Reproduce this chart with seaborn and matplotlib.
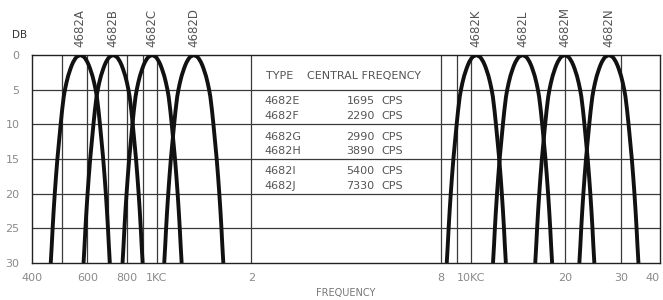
#!/usr/bin/env python
import sys

from matplotlib import pyplot as plt
import pandas as pd
import seaborn as sns

# filter types and their peak (central) frequencies in cps
CURVE_TYPES = ['4682A', '4682B', '4682C', '4682D',
               '4682K', '4682L', '4682M', '4682N']
CURVE_CENTERS = [570, 725, 965, 1310, 10400, 14600, 19900, 27500]

# shared response shape: attenuation (db) vs ratio f/f0 on each side of the peak
PROFILE_DB = [0, 0.25, 0.5, 1, 1.5, 2, 3, 4, 5, 6, 7, 8, 10, 12.5, 15,
              17.5, 20, 22.5, 25, 27.5, 30]
PROFILE_RATIO = [1.0, 1.026, 1.037, 1.053, 1.065, 1.075, 1.093, 1.107,
                 1.119, 1.129, 1.136, 1.143, 1.155, 1.169, 1.183, 1.195,
                 1.206, 1.216, 1.225, 1.233, 1.242]

# the table in the middle of the chart
TABLE_TYPES = ['4682E', '4682F', '4682G', '4682H', '4682I', '4682J']
TABLE_FREQS = ['1695', '2290', '2990', '3890', '5400', '7330']

XTICKS = [400, 600, 800, 1000, 2000, 8000, 10000, 20000, 30000, 40000]
XTICKLABELS = ['400', '600', '800', '1KC', '2', '8', '10KC', '20', '30', '40']
XGRID = [500, 600, 700, 800, 900, 1000, 2000, 8000, 9000, 10000, 20000, 30000]
YTICKS = [0, 5, 10, 15, 20, 25, 30]


def build_curves():
  rows = []
  for name, f0 in zip(CURVE_TYPES, CURVE_CENTERS):
    pts = [(f0 / r, d) for r, d in zip(PROFILE_RATIO[::-1], PROFILE_DB[::-1])]
    pts += [(f0 * r, d) for r, d in zip(PROFILE_RATIO[1:], PROFILE_DB[1:])]
    for i, (f, d) in enumerate(pts):
      rows.append({'filter': name, 'order': i, 'freq': f, 'db': d})
  return pd.DataFrame(rows)


def main():
  sns.set_style('white')
  plt.rcParams['font.family'] = ['DejaVu Sans']
  data = build_curves()

  fig = plt.figure(figsize=(6.63, 3.0), dpi=100)
  ax = fig.add_axes([32 / 663, 37 / 300, 628 / 663, 208 / 300])
  ax.set_xscale('log')

  for x in XGRID:
    ax.axvline(x, color='#3a3a3a', lw=0.9, zorder=1)
  for y in YTICKS[1:-1]:
    ax.axhline(y, color='#3a3a3a', lw=0.9, zorder=1)

  sns.lineplot(data=data, x='freq', y='db', units='filter', estimator=None,
               sort=False, color='#111111', lw=2.8, ax=ax, zorder=3)
  for line in ax.get_lines():
    line.set_solid_joinstyle('round')
    line.set_solid_capstyle('butt')

  ax.set_xlim(400, 40000)
  ax.set_ylim(30, 0)
  ax.set_xticks(XTICKS)
  ax.set_xticklabels(XTICKLABELS)
  ax.minorticks_off()
  ax.set_yticks(YTICKS)
  ax.set_yticklabels([str(v) for v in YTICKS])
  ax.tick_params(length=0, labelsize=8, labelcolor='#8a8a8a', pad=7)
  ax.tick_params(axis='y', pad=9)
  ax.get_xticklabels()[-1].set_horizontalalignment('right')
  for s in ax.spines.values():
    s.set_color('#222222')
    s.set_linewidth(1.0)
  ax.set_xlabel('FREQUENCY', fontsize=7, color='#777777', labelpad=4)
  ax.set_ylabel('')
  fig.text(12 / 663, 1 - 35 / 300, 'DB', fontsize=7.5, color='#333333',
           va='center', ha='left')

  for name, f0 in zip(CURVE_TYPES, CURVE_CENTERS):
    ax.annotate(name, xy=(f0, 0), xytext=(0, 6), textcoords='offset points',
                rotation=90, ha='center', va='bottom', fontsize=8.5,
                color='#555555')

  txt = dict(fontsize=8, color='#555555', va='center')
  ax.text(2230, 3.0, 'TYPE', ha='left', **txt)
  ax.text(3000, 3.0, 'CENTRAL FREQENCY', ha='left', **txt)
  rows_db = [6.7, 8.8, 11.8, 13.8, 16.8, 18.9]
  for name, freq, y in zip(TABLE_TYPES, TABLE_FREQS, rows_db):
    ax.text(2200, y, name, ha='left', **txt)
    ax.text(4930, y, freq, ha='right', **txt)
    ax.text(5200, y, 'CPS', ha='left', **txt)

  plt.savefig('out.png', dpi=100)
  plt.close('all')


##############################################
if __name__ == "__main__":
  sys.exit(main())
